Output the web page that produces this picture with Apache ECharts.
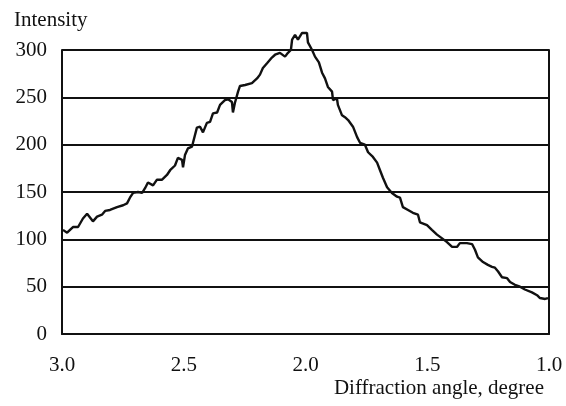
<!DOCTYPE html>
<html>
<head>
<meta charset="utf-8">
<script src="https://cdn.jsdelivr.net/npm/echarts@6/dist/echarts.min.js"></script>
<style>
  html, body { margin: 0; padding: 0; background: #fff; }
  #chart { width: 566px; height: 406px; }
</style>
</head>
<body>
<div id="chart"></div>
<script>
// diffraction angle (degree)
const angles = [
  2.996, 2.979, 2.955, 2.934, 2.914, 2.897, 2.889, 2.873, 2.856, 2.836,
  2.823, 2.803, 2.774, 2.749, 2.733, 2.721, 2.708, 2.688, 2.671, 2.659,
  2.647, 2.626, 2.610, 2.589, 2.569, 2.556, 2.536, 2.524, 2.507, 2.503,
  2.495, 2.483, 2.466, 2.462, 2.446, 2.433, 2.421, 2.405, 2.392, 2.380,
  2.363, 2.351, 2.331, 2.318, 2.302, 2.298, 2.290, 2.277, 2.269, 2.248,
  2.220, 2.199, 2.187, 2.175, 2.158, 2.138, 2.125, 2.105, 2.084, 2.072,
  2.060, 2.055, 2.043, 2.031, 2.014, 2.006, 1.994, 1.990, 1.973, 1.961,
  1.945, 1.932, 1.920, 1.908, 1.891, 1.887, 1.871, 1.867, 1.850, 1.838,
  1.825, 1.817, 1.805, 1.788, 1.776, 1.756, 1.743, 1.723, 1.706, 1.694,
  1.682, 1.665, 1.645, 1.624, 1.612, 1.600, 1.579, 1.559, 1.538, 1.530,
  1.501, 1.481, 1.460, 1.439, 1.419, 1.398, 1.378, 1.366, 1.337, 1.316,
  1.304, 1.292, 1.271, 1.251, 1.234, 1.222, 1.209, 1.193, 1.172, 1.160,
  1.140, 1.119, 1.099, 1.070, 1.049, 1.037, 1.016, 1.004
];
// intensity
const intensity = [
  110, 107, 113, 113, 122, 127, 126, 119, 124, 126,
  130, 131, 134, 136, 138, 144, 149, 150, 149, 154,
  160, 157, 163, 163, 168, 173, 178, 186, 184, 176,
  189, 196, 198, 202, 218, 219, 213, 223, 224, 233,
  234, 242, 247, 248, 245, 234, 244, 256, 262, 263,
  265, 270, 274, 281, 286, 292, 295, 297, 293, 297,
  300, 311, 316, 311, 318, 320, 318, 308, 300, 293,
  287, 276, 270, 261, 256, 247, 249, 242, 231, 229,
  226, 228, 219, 208, 202, 200, 192, 187, 181, 173,
  165, 155, 149, 145, 144, 134, 131, 128, 126, 118,
  115, 110, 105, 101, 97, 92, 92, 96, 96, 95,
  89, 81, 76, 73, 71, 70, 66, 60, 59, 55,
  52, 50, 47, 44, 41, 38, 37, 38
];
const yTicks = [0, 50, 100, 150, 200, 250, 300];
const xTicks = [1.0, 1.5, 2.0, 2.5, 3.0];

const font = '"Liberation Serif", "DejaVu Serif", serif';
const ink = '#111';
const fs = 21;

const chart = echarts.init(document.getElementById('chart'));

chart.setOption({
  animation: false,
  title: [
    {
      text: 'Intensity',
      left: 9, top: 5,
      textStyle: { fontFamily: font, fontSize: fs, fontWeight: 'normal', color: ink },
    },
    {
      text: 'Diffraction angle, degree',
      right: 17, top: 373,
      textStyle: { fontFamily: font, fontSize: fs, fontWeight: 'normal', color: ink },
    },
  ],
  grid: { left: 62, right: 17, top: 50, bottom: 72 },
  xAxis: {
    type: 'value',
    inverse: true,
    min: xTicks[0],
    max: xTicks[xTicks.length - 1],
    interval: 0.5,
    axisLine: { show: true, lineStyle: { color: ink, width: 2 } },
    axisTick: { show: false },
    splitLine: { show: false },
    axisLabel: {
      margin: 21,
      fontFamily: font, fontSize: fs, color: ink,
      formatter: v => v.toFixed(1),
    },
  },
  yAxis: [
    {
      type: 'value',
      min: yTicks[0],
      max: yTicks[yTicks.length - 1],
      interval: 50,
      axisLine: { show: true, lineStyle: { color: ink, width: 2 } },
      axisTick: { show: false },
      splitLine: { show: true, lineStyle: { color: ink, width: 2 } },
      axisLabel: { margin: 15, fontFamily: font, fontSize: fs, color: ink },
    },
    {
      // right border of the box
      type: 'value',
      position: 'right',
      min: yTicks[0],
      max: yTicks[yTicks.length - 1],
      interval: 50,
      axisLine: { show: true, lineStyle: { color: ink, width: 2 } },
      axisTick: { show: false },
      axisLabel: { show: false },
      splitLine: { show: false },
    },
  ],
  series: [
    {
      type: 'line',
      data: angles.map((a, i) => [a, intensity[i]]),
      showSymbol: false,
      clip: false,
      lineStyle: { color: ink, width: 2.4 },
    },
  ],
});
</script>
</body>
</html>
